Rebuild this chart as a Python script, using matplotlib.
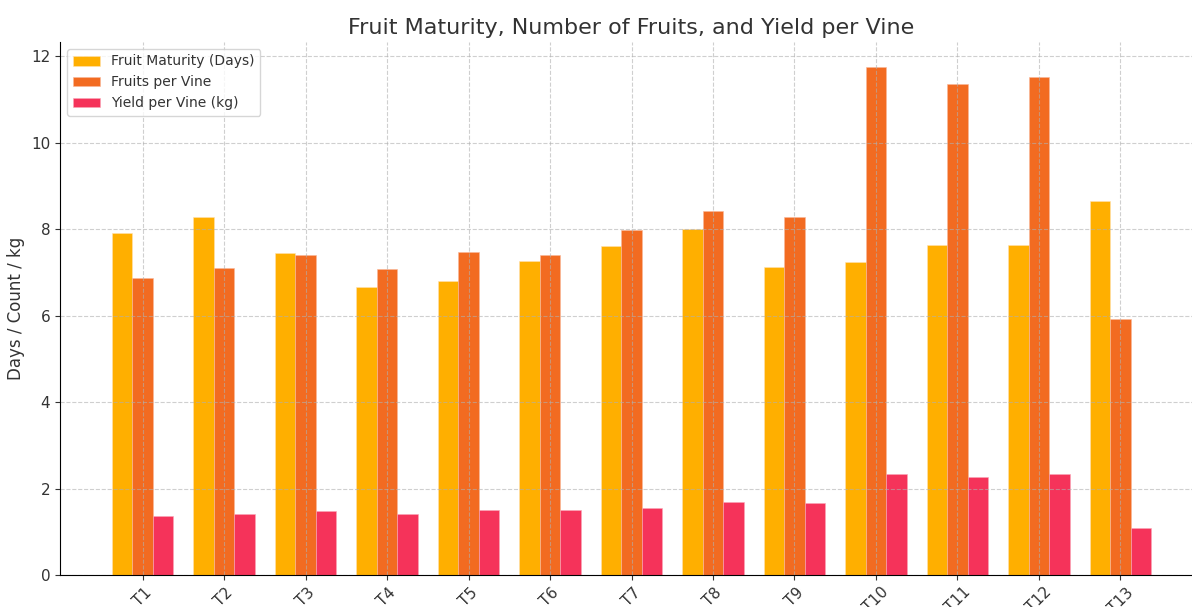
import numpy as np
import matplotlib
matplotlib.use('Agg')
import matplotlib.pyplot as plt

treatments = ['T1', 'T2', 'T3', 'T4', 'T5', 'T6', 'T7', 'T8', 'T9', 'T10', 'T11', 'T12', 'T13']
maturity_days = [7.92, 8.27, 7.44, 6.67, 6.79, 7.27, 7.60, 8.01, 7.13, 7.23, 7.64, 7.64, 8.66]
fruits_per_vine = [6.86, 7.09, 7.39, 7.07, 7.46, 7.39, 7.97, 8.43, 8.29, 11.74, 11.35, 11.51, 5.93]
yield_per_vine = [1.37, 1.41, 1.48, 1.41, 1.51, 1.51, 1.55, 1.69, 1.67, 2.34, 2.27, 2.34, 1.09]

plt.rcParams['font.family'] = 'DejaVu Sans'
plt.rcParams['text.color'] = '#333333'
plt.rcParams['axes.labelcolor'] = '#333333'
plt.rcParams['xtick.color'] = '#333333'
plt.rcParams['ytick.color'] = '#333333'

fig = plt.figure(figsize=(11.92, 6.07), dpi=100)
ax = fig.add_axes([60 / 1192, 32 / 607, (1203 - 60) / 1192, (575 - 42) / 607])

x = np.arange(len(treatments))
w = 0.25
ax.bar(x - w, maturity_days, w, color='#FFAF00', edgecolor='#FFE2B0', linewidth=0.4, label='Fruit Maturity (Days)')
ax.bar(x, fruits_per_vine, w, color='#F26B21', edgecolor='#F9B89A', linewidth=0.4, label='Fruits per Vine')
ax.bar(x + w, yield_per_vine, w, color='#F5335A', edgecolor='#F9A8B8', linewidth=0.4, label='Yield per Vine (kg)')

ax.set_xticks(x)
ax.set_xticklabels(treatments, rotation=45, fontsize=11)
ax.tick_params(axis='y', labelsize=11)
ax.set_ylabel('Days / Count / kg', fontsize=12)
ax.set_title('Fruit Maturity, Number of Fruits, and Yield per Vine', fontsize=16)
ax.grid(True, linestyle='--', alpha=0.6)
ax.spines['top'].set_visible(False)
ax.spines['right'].set_visible(False)
ax.legend(loc='upper left', fontsize=10)

fig.savefig('out.png', dpi=100)
